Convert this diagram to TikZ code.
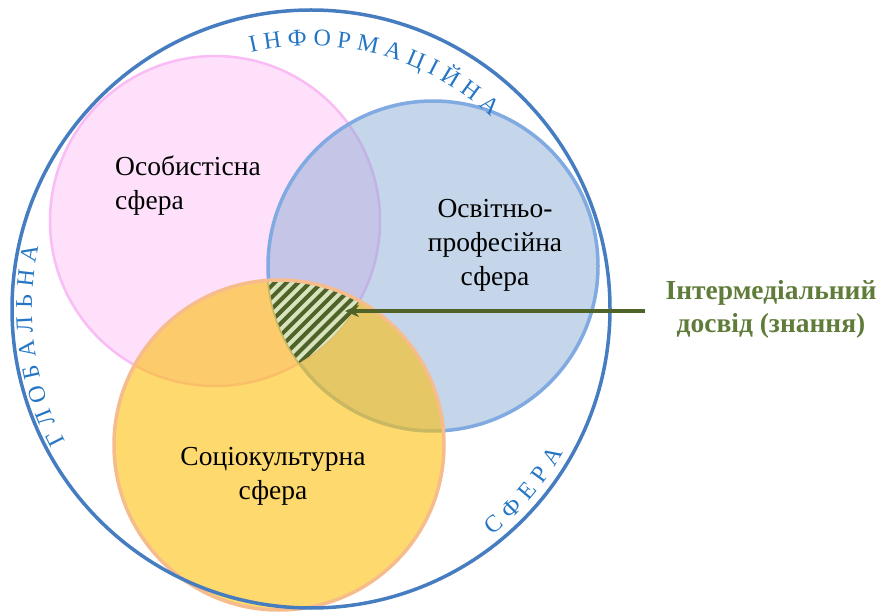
\documentclass[tikz,border=0pt]{standalone}
\usepackage{fontspec}
\setmainfont{Liberation Serif}
\newfontfamily\serifcyr{Liberation Serif}
\usetikzlibrary{decorations.text,arrows.meta,calc}

\definecolor{pinkfill}{RGB}{254,224,251}
\definecolor{pinkline}{RGB}{249,188,245}
\definecolor{bluefill}{RGB}{139,171,213}
\definecolor{blueline}{RGB}{128,170,225}
\definecolor{orangefill}{RGB}{252,192,13}
\definecolor{orangeline}{RGB}{247,188,140}
\definecolor{ringblue}{RGB}{70,124,192}
\definecolor{arcblue}{RGB}{36,118,196}
\definecolor{hatchlight}{RGB}{215,228,189}
\definecolor{hatchdark}{RGB}{79,98,40}
\definecolor{labelgreen}{RGB}{96,124,58}

\newcommand\arcfont{\serifcyr\fontsize{24}{24}\selectfont}

\begin{document}
\begin{tikzpicture}[x=1pt,y=1pt,
  sphere/.style={font=\serifcyr\fontsize{27.5}{34}\selectfont, inner sep=0pt, text=black},
  notestyle/.style={font=\serifcyr\fontsize{27.5}{33}\selectfont\bfseries, inner sep=0pt, text=labelgreen},
  ringtext/.style={decorate, decoration={text along path, text align=fit to path,
      text color=arcblue, text={|\arcfont|#1}}}]
\useasboundingbox (0,0) rectangle (881,614);

% centres of the ring and of the three spheres
\coordinate (o)  at (311,305);
\coordinate (cp) at (215,393);
\coordinate (cb) at (433,348);
\coordinate (cs) at (279,169);

% personal sphere
\fill[pinkfill] (cp) circle[radius=165pt];
\draw[pinkline, line width=2.5pt] (cp) circle[radius=165pt];

% educational-professional sphere
\fill[bluefill, fill opacity=0.5] (cb) circle[radius=165pt];
\draw[blueline, line width=3.5pt] (cb) circle[radius=165pt];

% sociocultural sphere
\fill[orangefill, fill opacity=0.6] (cs) circle[radius=165pt];

% common part of all three spheres, hatched
\begin{scope}
  \clip (cp) circle[radius=165pt];
  \clip (cb) circle[radius=165pt];
  \clip (cs) circle[radius=165pt];
  \fill[hatchlight] (240,230) rectangle (390,350);
  \foreach \k in {0,...,22}
    \draw[hatchdark, line width=4pt] (150+\k*11.7,230) -- ++(130,130);
\end{scope}
\draw[orangeline, line width=3.5pt] (cs) circle[radius=165pt];

% global ring
\draw[ringblue, line width=3.5pt] (o) circle[radius=299pt];

% lettering along the ring
\path[ringtext={ІНФОРМАЦІЙНА}]
  ($(o)+(103.2:263pt)$) arc[start angle=103.2, end angle=46.8, radius=263pt];
\path[ringtext={ГЛОБАЛЬНА}]
  ($(o)+(208.3:279pt)$) arc[start angle=208.3, end angle=167.1, radius=279pt];
\path[ringtext={СФЕРА}]
  ($(o)+(-51.3:290pt)$) arc[start angle=-51.3, end angle=-29.6, radius=290pt];

% sphere names
\node[sphere, align=left, anchor=west] (personal) at (115,428) {Особистісна\\сфера};
\node[sphere, align=center] (edu) at (495,369) {Освітньо-\\професійна\\сфера};
\node[sphere, align=center] (socio) at (273,138) {Соціокультурна\\сфера};

% note and pointer
\node[notestyle, align=center] (note) at (771,304.5) {Інтермедіальний\\досвід (знання)};
\coordinate (tail) at (645,303);
\coordinate (tip) at (345,303);
\draw[hatchdark, line width=3.2pt, -{Stealth[length=14pt,width=12pt]}] (tail) -- (tip);
\end{tikzpicture}
\end{document}
